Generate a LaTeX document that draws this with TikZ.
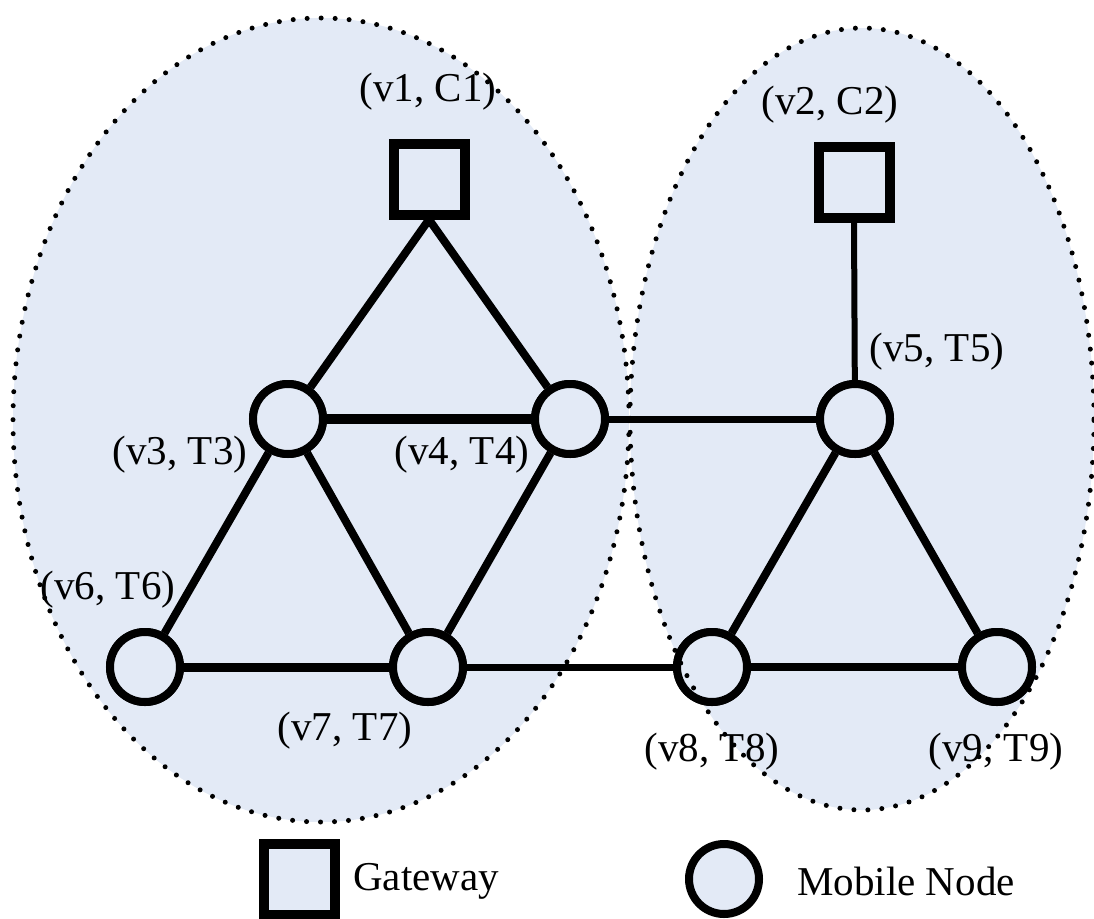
\documentclass[tikz,border=0pt]{standalone}
\usepackage{fontspec}
\setmainfont{Liberation Serif}
\definecolor{zonefill}{RGB}{227,234,246}
\begin{document}
\begin{tikzpicture}[x=1pt,y=-1pt,
  mnode/.style={circle,draw,line width=8pt,fill=zonefill,minimum size=70pt,inner sep=0pt},
  gw/.style={rectangle,draw,line width=10pt,fill=zonefill,minimum size=71pt,inner sep=0pt},
  link/.style={line width=8pt},
  zone/.style={dash pattern=on 0pt off 14pt,line cap=round,line width=5pt},
  lbl/.style={font=\fontsize{41}{48}\selectfont,inner sep=0pt}]
\useasboundingbox (0,0) rectangle (1094,918);
% zones
\fill[zonefill] (321,420) ellipse [x radius=308pt,y radius=402pt];
\fill[zonefill] (862,419) ellipse [x radius=232pt,y radius=391pt];
% nodes
\node[gw] (v1) at (429,179) {};
\node[gw] (v2) at (854,182) {};
\node[mnode] (v3) at (288,419) {};
\node[mnode] (v4) at (570,419) {};
\node[mnode] (v5) at (855,419) {};
\node[mnode] (v6) at (145,667) {};
\node[mnode] (v7) at (428,667) {};
\node[mnode] (v8) at (712,667) {};
\node[mnode] (v9) at (997,667) {};
% links
\draw[link] (v1.south) -- (v3);
\draw[link] (v1.south) -- (v4);
\draw[link,line width=6pt] (v2.south) -- (v5);
\draw[link,line width=10pt] (v3) -- (v4);
\draw[link,line width=7pt] (v4) -- (v5);
\draw[link] (v3) -- (v6);
\draw[link] (v3) -- (v7);
\draw[link] (v4) -- (v7);
\draw[link,line width=9pt] (v6) -- (v7);
\draw[link,line width=7pt] (v7) -- (v8);
\draw[link] (v5) -- (v8);
\draw[link] (v5) -- (v9);
\draw[link] (v8) -- (v9);
% redraw nodes on top of links
\node[gw] at (v1) {};
\node[gw] at (v2) {};
\foreach \n in {v3,v4,v5,v6,v7,v8,v9} \node[mnode] at (\n) {};
% labels
\node[lbl] (l1) at (428,92) {(v1, C1)};
\node[lbl] (l2) at (830,105) {(v2, C2)};
\node[lbl] (l5) at (937,352) {(v5, T5)};
\node[lbl] (l3) at (180,455) {(v3, T3)};
\node[lbl] (l4) at (462,455) {(v4, T4)};
\node[lbl] (l6) at (108,590) {(v6, T6)};
\node[lbl] (l7) at (345,731) {(v7, T7)};
\node[lbl] (l8) at (712,752) {(v8, T8)};
\node[lbl] (l9) at (996,752) {(v9, T9)};
% zone borders
\draw[zone] (321,420) ellipse [x radius=308pt,y radius=402pt];
\draw[zone] (862,419) ellipse [x radius=232pt,y radius=391pt];
% legend
\node[gw] (lg) at (299,879) {};
\node[lbl,anchor=west] (lgt) at (353,881) {Gateway};
\node[mnode] (lm) at (724,879) {};
\node[lbl,anchor=west] (lmt) at (797,881) {Mobile Node};
\end{tikzpicture}
\end{document}
